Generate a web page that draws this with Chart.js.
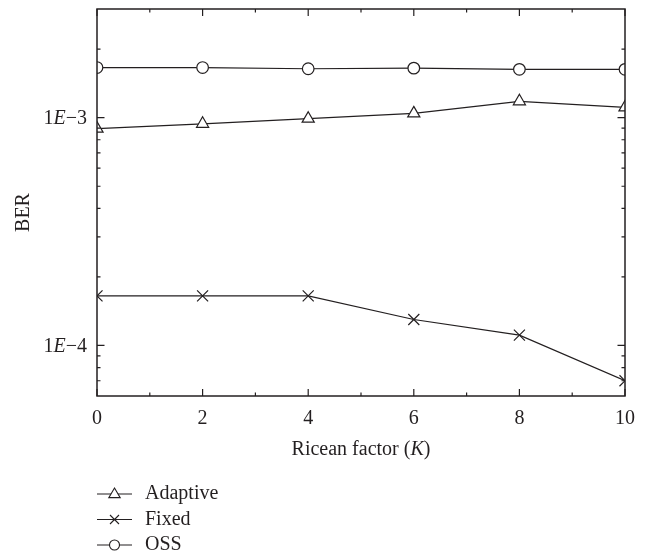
<!DOCTYPE html>
<html>
<head>
<meta charset="utf-8">
<script src="https://cdn.jsdelivr.net/npm/chart.js@4.4.1/dist/chart.umd.min.js"></script>
<style>
  html, body { margin: 0; padding: 0; background: #fff; }
</style>
</head>
<body>
<canvas id="ber_chart" width="656" height="558"></canvas>
<script>
// values
const ricean = [0, 2, 4, 6, 8, 10];
const adaptiveBer = [8.95e-4, 9.4e-4, 9.9e-4, 1.045e-3, 1.18e-3, 1.11e-3];
const fixedBer = [1.65e-4, 1.65e-4, 1.65e-4, 1.30e-4, 1.11e-4, 7.0e-5];
const ossBer = [1.66e-3, 1.66e-3, 1.64e-3, 1.65e-3, 1.63e-3, 1.63e-3];
const seriesNames = ["Adaptive", "Fixed", "OSS"];
const xMajor = [0, 2, 4, 6, 8, 10];
const xMinor = [1, 3, 5, 7, 9];
const yMajor = [1e-3, 1e-4];
const yMajorLabels = [["1", "E", "\u22123"], ["1", "E", "\u22124"]];
const yMin = 6e-5, yMax = 3e-3;

const ink = '#231f20';
const serif = '"Liberation Serif", "DejaVu Serif", serif';

function toPoints(vals) {
    return ricean.map((k, i) => ({ x: k, y: vals[i] }));
}

// text with one piece in italic (1E-3, (K))
function drawMixed(ctx, parts, italicIdx, x, y, align, size) {
    let widths = [], total = 0;
    parts.forEach((p, i) => {
        ctx.font = (i === italicIdx ? 'italic ' : '') + size + 'px ' + serif;
        let w = ctx.measureText(p).width;
        widths.push(w);
        total += w;
    });
    let cx = align === 'right' ? x - total : (align === 'center' ? x - total / 2 : x);
    ctx.textAlign = 'left';
    ctx.textBaseline = 'middle';
    parts.forEach((p, i) => {
        ctx.font = (i === italicIdx ? 'italic ' : '') + size + 'px ' + serif;
        ctx.fillText(p, cx, y);
        cx += widths[i];
    });
}

function marker(ctx, style, x, y, r) {
    ctx.beginPath();
    if (style === 'triangle') {
        ctx.moveTo(x, y - r);
        ctx.lineTo(x + r * 0.95, y + r * 0.6);
        ctx.lineTo(x - r * 0.95, y + r * 0.6);
        ctx.closePath();
        ctx.fillStyle = '#fff';
        ctx.fill();
        ctx.stroke();
    } else if (style === 'circle') {
        ctx.arc(x, y, r, 0, Math.PI * 2);
        ctx.fillStyle = '#fff';
        ctx.fill();
        ctx.stroke();
    } else {
        ctx.moveTo(x - r, y - r); ctx.lineTo(x + r, y + r);
        ctx.moveTo(x - r, y + r); ctx.lineTo(x + r, y - r);
        ctx.stroke();
    }
}

const frame = {
    id: 'frame',
    afterDraw(chart) {
        const ctx = chart.ctx;
        const a = chart.chartArea;
        const xs = chart.scales.x, ys = chart.scales.y;
        ctx.save();
        ctx.strokeStyle = ink;
        ctx.fillStyle = ink;

        // inward ticks on all four sides
        ctx.lineWidth = 1.2;
        ctx.beginPath();
        xMajor.concat(xMinor).forEach(v => {
            let len = xMajor.includes(v) ? 7 : 3.5;
            let px = xs.getPixelForValue(v);
            ctx.moveTo(px, a.bottom); ctx.lineTo(px, a.bottom - len);
            ctx.moveTo(px, a.top); ctx.lineTo(px, a.top + len);
        });
        for (let e = -5; e <= -2; e++) {
            for (let m = 1; m <= 9; m++) {
                let v = m * Math.pow(10, e);
                if (v < yMin * 1.001 || v > yMax * 0.999) continue;
                let len = m === 1 ? 7.5 : 3.5;
                let py = ys.getPixelForValue(v);
                ctx.moveTo(a.left, py); ctx.lineTo(a.left + len, py);
                ctx.moveTo(a.right, py); ctx.lineTo(a.right - len, py);
            }
        }
        ctx.stroke();

        // box
        ctx.lineWidth = 1.5;
        ctx.strokeRect(a.left, a.top, a.right - a.left, a.bottom - a.top);

        // y labels
        ctx.fillStyle = ink;
        yMajor.forEach((v, i) => {
            drawMixed(ctx, yMajorLabels[i], 1, a.left - 10, ys.getPixelForValue(v) + 1, 'right', 20);
        });

        // axis titles
        drawMixed(ctx, ["Ricean factor (", "K", ")"], 1, (a.left + a.right) / 2, 450, 'center', 20);
        ctx.save();
        ctx.translate(24, (a.top + a.bottom) / 2 + 10);
        ctx.rotate(-Math.PI / 2);
        drawMixed(ctx, ["BER"], -1, 0, 0, 'center', 20);
        ctx.restore();

        // legend
        const styles = ['triangle', 'cross', 'circle'];
        const sizes = [6, 4.5, 5];
        ctx.lineWidth = 1.1;
        seriesNames.forEach((name, i) => {
            let ly = 494 + i * 25.5;
            ctx.strokeStyle = ink;
            ctx.beginPath();
            ctx.moveTo(97, ly); ctx.lineTo(132, ly);
            ctx.stroke();
            marker(ctx, styles[i], 114.5, ly, sizes[i]);
            ctx.fillStyle = ink;
            drawMixed(ctx, [name], -1, 145, ly, 'left', 20);
        });
        ctx.restore();
    }
};

function seriesStyle(style, radius) {
    return {
        borderColor: ink,
        borderWidth: 1.2,
        pointStyle: style,
        pointRadius: radius,
        pointBorderWidth: 1.2,
        pointBorderColor: ink,
        pointBackgroundColor: '#fff',
        tension: 0,
        clip: 0
    };
}

new Chart(document.getElementById('ber_chart').getContext('2d'), {
    type: 'line',
    data: {
        datasets: [
            Object.assign({ label: seriesNames[0], data: toPoints(adaptiveBer) }, seriesStyle('triangle', 7)),
            Object.assign({ label: seriesNames[1], data: toPoints(fixedBer) }, seriesStyle('crossRot', 7.8)),
            Object.assign({ label: seriesNames[2], data: toPoints(ossBer) }, seriesStyle('circle', 5.8))
        ]
    },
    options: {
        responsive: false,
        animation: false,
        layout: { padding: { left: 0, right: 31, top: 8, bottom: 0 } },
        plugins: { legend: { display: false }, tooltip: { enabled: false } },
        scales: {
            x: {
                type: 'linear', min: 0, max: 10,
                grid: { display: false }, border: { display: false },
                ticks: { stepSize: 2, color: ink, padding: 3, font: { family: serif, size: 20 } },
                afterFit: s => { s.height = 162; }
            },
            y: {
                type: 'logarithmic', min: yMin, max: yMax,
                grid: { display: false }, border: { display: false },
                ticks: { display: false },
                afterFit: s => { s.width = 97; }
            }
        }
    },
    plugins: [frame]
});
</script>
</body>
</html>
